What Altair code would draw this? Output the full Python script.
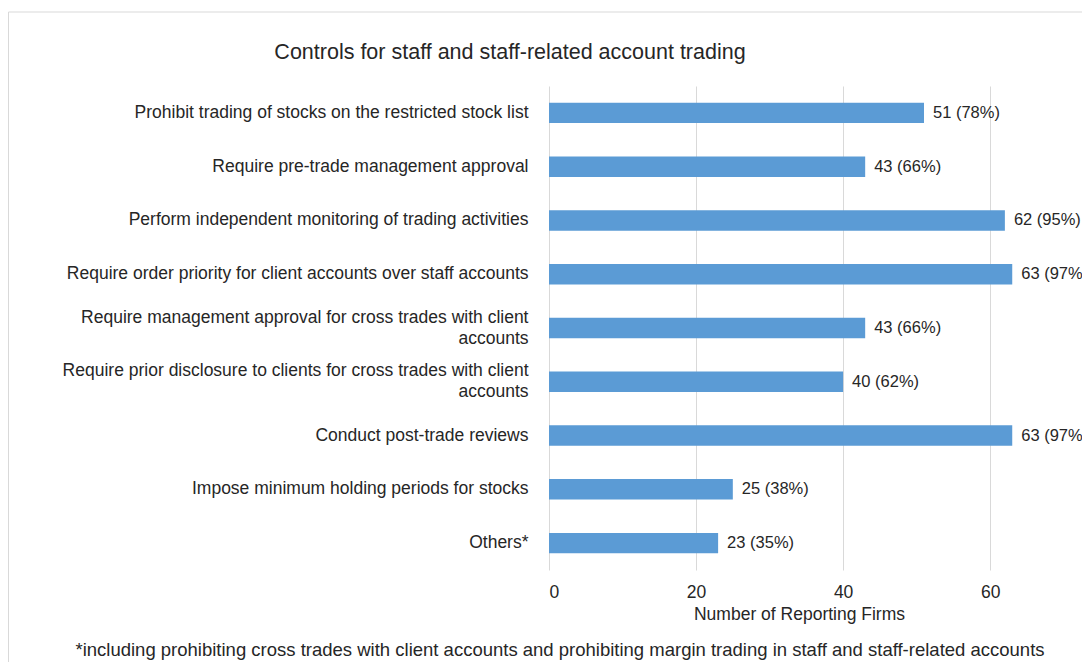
import altair as alt
import pandas as pd

categories = [
    "Prohibit trading of stocks on the restricted stock list",
    "Require pre-trade management approval",
    "Perform independent monitoring of trading activities",
    "Require order priority for client accounts over staff accounts",
    "Require management approval for cross trades with client\naccounts",
    "Require prior disclosure to clients for cross trades with client\naccounts",
    "Conduct post-trade reviews",
    "Impose minimum holding periods for stocks",
    "Others*",
]
counts = [51, 43, 62, 63, 43, 40, 63, 25, 23]
percents = [78, 66, 95, 97, 66, 62, 97, 38, 35]
x_ticks = [0, 20, 40, 60]

chart_title = "Controls for staff and staff-related account trading"
x_title = "Number of Reporting Firms"
footnote = "*including prohibiting cross trades with client accounts and prohibiting margin trading in staff and staff-related accounts"

df = pd.DataFrame({"category": categories, "count": counts, "pct": percents})
df["label"] = [f"{c} ({p}%)" for c, p in zip(counts, percents)]

FONT = "Liberation Sans"
BAR = "#5b9bd5"
GRID = "#d9d9d9"
TXT = "#262626"
FS = 17.5

y_enc = alt.Y(
    "category:N",
    sort=None,
    title=None,
    scale=alt.Scale(paddingInner=0.62, paddingOuter=0.31),
    axis=alt.Axis(
        labelExpr="split(datum.label, '\\n')",
        labelFontSize=FS,
        labelFont=FONT,
        labelPadding=21,
        ticks=False,
        domain=False,
        labelLimit=700,
        labelColor=TXT,
        labelLineHeight=21,
        labelOffset={"condition": {"test": "indexof(datum.value, '\\n') >= 0", "value": -10.5}, "value": 0},
    ),
)
x_enc = alt.X(
    "count:Q",
    scale=alt.Scale(domain=[0, 68], nice=False),
    axis=alt.Axis(
        values=x_ticks,
        grid=True,
        gridColor=GRID,
        domain=False,
        ticks=False,
        labelFontSize=FS,
        labelFont=FONT,
        labelColor=TXT,
        labelPadding=13,
        title=x_title,
        titleFont=FONT,
        titleFontSize=FS,
        titleFontWeight="normal",
        titleColor=TXT,
        titlePadding=5,
    ),
)

base = alt.Chart(df)
bars = base.mark_bar(color=BAR).encode(x=x_enc, y=y_enc)
labels = base.mark_text(align="left", baseline="middle", dx=9, fontSize=16.5, font=FONT, color=TXT).encode(
    x="count:Q", y=alt.Y("category:N", sort=None), text="label:N"
)

title_mark = alt.Chart(pd.DataFrame({"t": [chart_title]})).mark_text(
    align="center", baseline="middle", fontSize=21.5, font=FONT, color=TXT
).encode(x=alt.value(-39), y=alt.value(-33), text="t:N")

foot = alt.Chart(pd.DataFrame({"t": [footnote]})).mark_text(
    align="center", baseline="middle", fontSize=18.5, font=FONT, color=TXT
).encode(x=alt.value(11), y=alt.value(564), text="t:N")

frame_left = alt.Chart(pd.DataFrame({"a": [0]})).mark_rule(color=GRID, strokeWidth=1).encode(
    x=alt.value(-540.5), y=alt.value(-74), y2=alt.value(700)
)
frame_top = alt.Chart(pd.DataFrame({"a": [0]})).mark_rule(color=GRID, strokeWidth=1).encode(
    x=alt.value(-540.5), x2=alt.value(600), y=alt.value(-74)
)

chart = (
    alt.layer(frame_left, frame_top, bars, labels, title_mark, foot)
    .properties(
        width=500,
        height=484,
        autosize=alt.AutoSizeParams(type="none"),
        padding={"left": 541, "top": 78, "right": 33, "bottom": 92},
    )
    .configure_view(stroke=None)
)

chart.save("out.html", embed_options={"renderer": "svg", "actions": False})
